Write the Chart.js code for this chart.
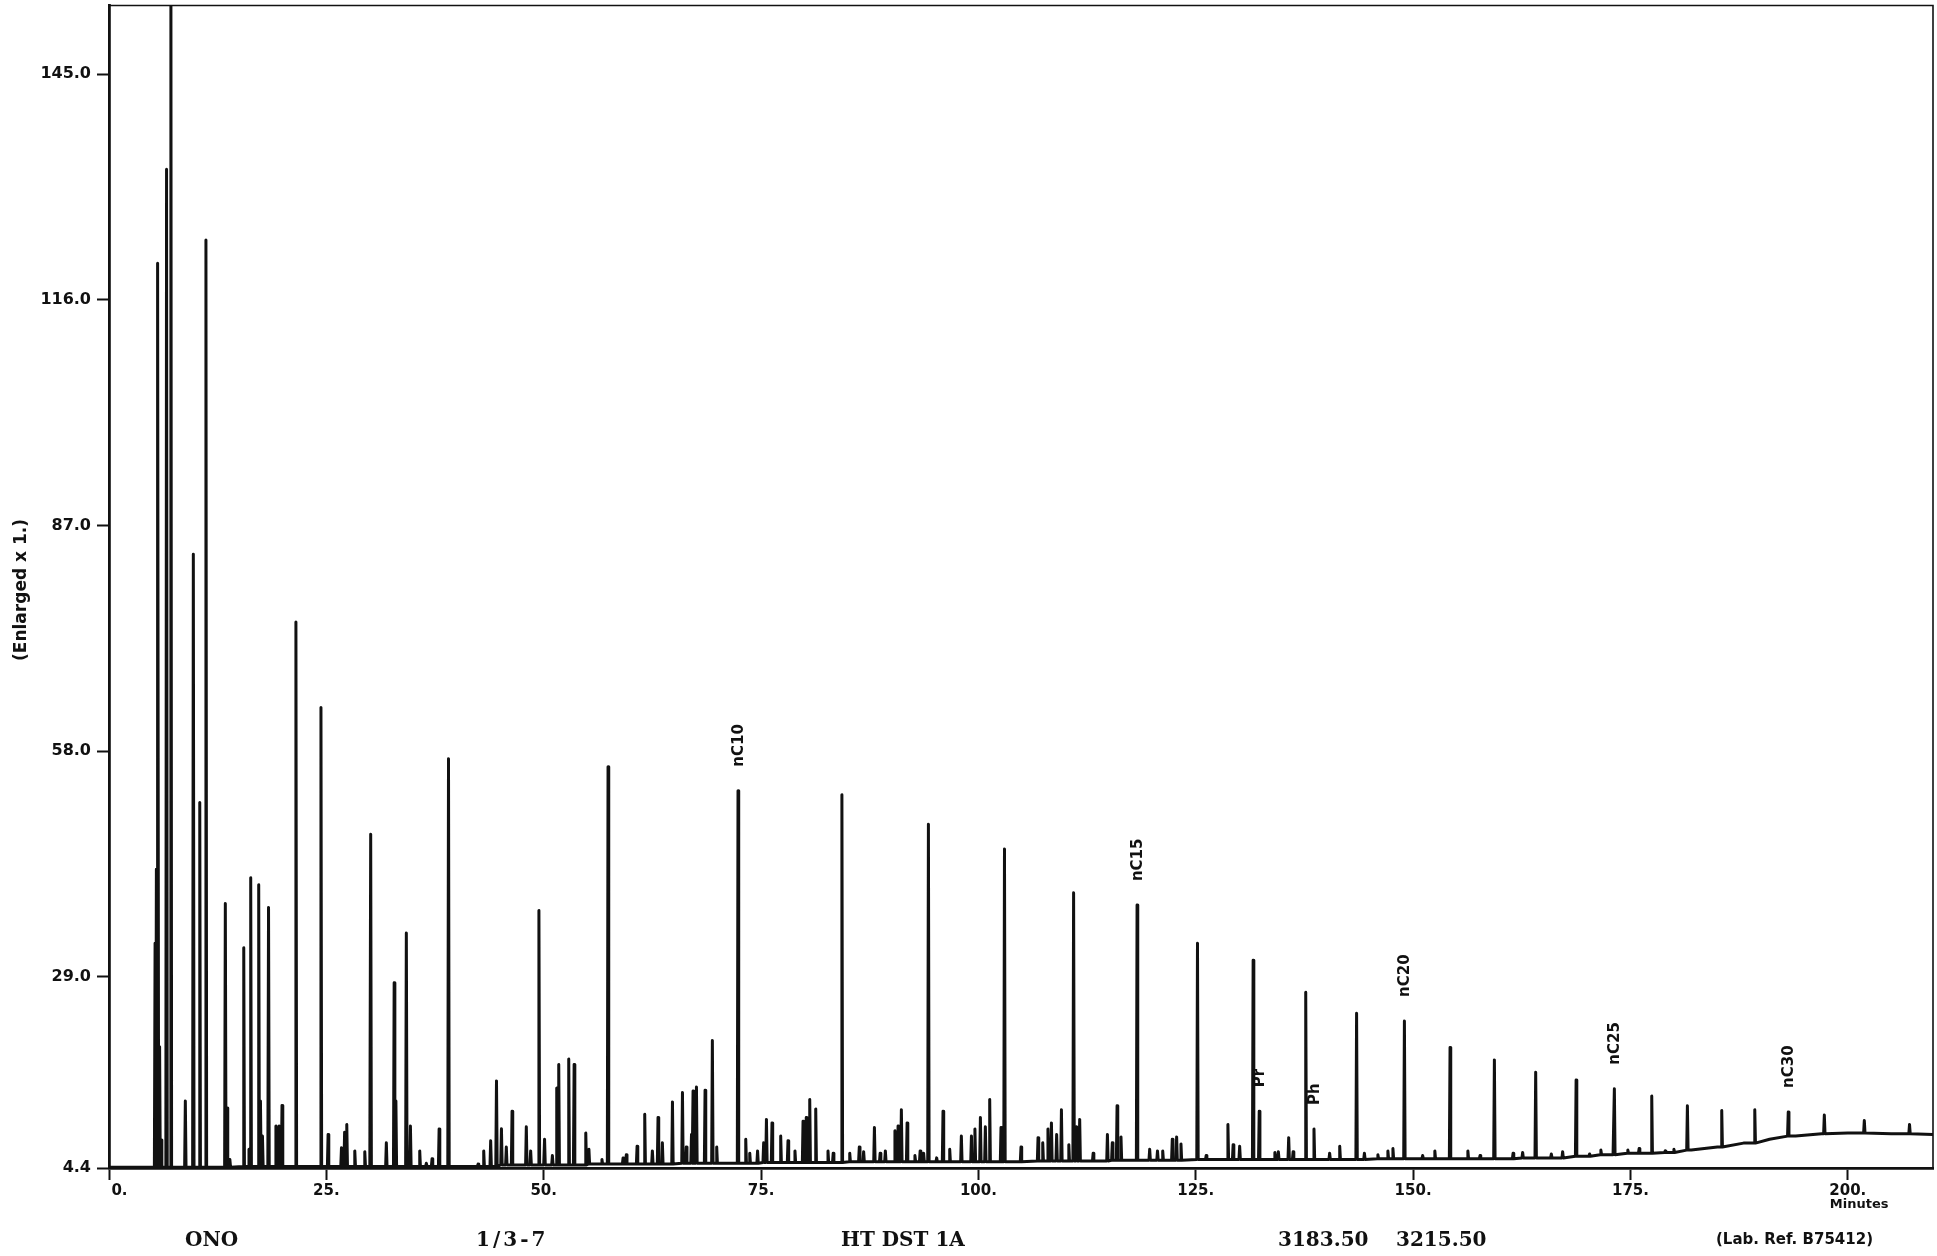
<!DOCTYPE html>
<html>
<head>
<meta charset="utf-8">
<script src="https://cdn.jsdelivr.net/npm/chart.js@4.4.1/dist/chart.umd.min.js"></script>
<style>
  html, body { margin: 0; padding: 0; background: #fff; }
  #wrap { position: relative; width: 1937px; height: 1256px; overflow: hidden; }
  canvas { position: absolute; left: 0; top: 0; }
  .foot { position: absolute; top: 1226px; line-height: 26px; white-space: pre; color: #111;
          font-family: "DejaVu Serif", "Liberation Serif", serif; font-weight: bold; font-size: 20px; }
  .ref { position: absolute; top: 1229px; line-height: 20px; white-space: pre; color: #111;
         font-family: "DejaVu Sans", "Liberation Sans", sans-serif; font-weight: bold; font-size: 15px; }
</style>
</head>
<body>
<div id="wrap">
  <canvas id="c" width="1937" height="1256"></canvas>
  <div class="foot" style="left:185px">ONO</div>
  <div class="foot" style="left:476px; letter-spacing:3px">1/3-7</div>
  <div class="foot" style="left:841px">HT DST 1A</div>
  <div class="foot" style="left:1278px">3183.50</div>
  <div class="foot" style="left:1396px">3215.50</div>
  <div class="ref" style="left:1716px">(Lab. Ref. B75412)</div>
</div>
<script>
// ---- data (retention time in minutes, response) ----
const peakTimes = [
  5.3, 5.45, 5.63, 5.82, 6.0, 6.62, 7.12, 8.78, 9.7, 10.44, 11.15, 13.38, 13.58, 13.9,
  15.5, 16.1, 16.3, 17.22, 17.42, 17.65, 18.35, 19.2, 19.55, 19.9, 21.5, 24.38, 25.2,
  26.74, 27.1, 27.35, 28.27, 29.42, 30.1, 31.9, 32.8, 33.0, 34.2, 34.67, 35.74, 36.5,
  37.16, 37.97, 39.05, 42.45,
  43.1, 43.9, 44.57, 45.14, 45.7, 46.36, 48.0, 48.5, 49.45, 50.1, 51.0, 51.5, 51.73, 52.88,
  53.5, 54.84, 55.2, 56.7, 57.4, 59.13, 59.5, 60.74, 61.62, 62.5, 63.15, 63.65, 64.81, 65.96,
  66.4, 67.0, 67.18, 67.57, 68.56, 69.4, 69.9, 72.35, 73.24, 73.7, 74.6, 75.3, 75.62, 76.26,
  77.26, 78.1, 78.9, 79.83, 80.2, 80.6, 81.29, 82.7, 83.3, 84.3, 85.2,
  86.3, 86.8, 88.04, 88.7, 89.3, 90.4, 90.76, 91.14, 91.8, 92.7, 93.3, 93.7, 94.25, 95.2,
  95.93, 96.7, 98.04, 99.2, 99.6, 100.23, 100.8, 101.3, 102.6, 103.0, 104.9, 106.86, 107.4,
  108.0, 108.4, 109.0, 109.55, 110.4, 110.95, 111.3, 111.65, 113.2, 114.84, 115.4, 115.95,
  116.4, 118.25, 119.7, 120.6, 121.2, 122.3, 122.8, 123.3, 125.2, 126.2, 128.7, 129.3, 130.05,
  131.6, 132.3, 134.1, 134.5, 135.69, 136.2, 137.65, 138.6, 140.4, 141.56, 143.5, 144.4,
  145.95, 147.1, 147.68, 149.0, 151.1, 152.5, 154.25, 156.3, 157.7, 159.35, 161.5, 162.6,
  164.1, 165.9, 167.2, 168.75, 170.3, 171.6, 173.15, 174.7, 176.0, 177.45, 179.0, 180.0,
  181.55, 185.5, 189.3, 193.15, 197.3, 201.9, 207.1
];
const peakHeights = [
  33.3, 42.8, 120.7, 20.0, 8.0, 132.8, 160.0, 13.0, 83.3, 51.4, 123.7, 38.4, 12.1, 5.5,
  32.7, 6.8, 41.7, 40.8, 13.0, 8.5, 37.9, 9.8, 9.8, 12.45, 74.6, 63.6, 8.7,
  7.0, 9.0, 10.0, 6.6, 6.5, 47.3, 7.65, 28.2, 13.0, 34.6, 9.8, 6.6, 5.0,
  5.6, 9.4, 57.0, 4.9,
  6.6, 7.9, 15.6, 9.45, 7.1, 11.7, 9.7, 6.6, 37.5, 8.1, 6.0, 14.7, 17.7, 18.4,
  17.7, 8.9, 6.8, 5.5, 56.0, 5.7, 6.1, 7.2, 11.3, 6.6, 10.9, 7.65, 12.9, 14.1,
  7.1, 8.7, 14.3, 14.8, 14.4, 20.8, 7.1, 52.9, 8.1, 6.3, 6.6, 7.65, 10.65, 10.2,
  8.5, 7.9, 6.6, 10.4, 10.9, 13.2, 12.0, 6.6, 6.3, 52.4, 6.3,
  7.1, 6.5, 9.6, 6.3, 6.6, 9.2, 9.8, 11.9, 10.2, 6.0, 6.6, 6.3, 48.6, 5.7,
  11.7, 6.8, 8.5, 8.5, 9.4, 10.9, 9.7, 13.2, 9.6, 45.4, 7.1, 8.3, 7.65,
  9.4, 10.2, 8.7, 11.9, 7.4, 39.8, 9.7, 10.65, 6.3, 8.7, 7.65, 12.4,
  8.4, 38.2, 6.8, 6.6, 6.6, 8.1, 8.4, 7.5, 33.3, 6.0, 10.0, 7.4, 7.2,
  31.1, 11.7, 6.4, 6.5, 8.3, 6.5, 27.0, 9.4, 6.3, 7.2, 24.3, 6.3,
  6.1, 6.6, 6.9, 23.3, 6.0, 6.6, 19.9, 6.6, 6.0, 18.3, 6.3, 6.4,
  16.7, 6.2, 6.5, 15.7, 6.2, 6.7, 14.6, 6.7, 6.9, 13.65, 6.6, 6.8,
  12.4, 11.8, 11.9, 11.6, 11.2, 10.5, 10.0
];
// baseline (drift) of the trace
const baseTimes  = [0, 10, 20, 30, 40, 50, 60, 70, 80, 90, 100, 110, 120, 130, 140, 150, 160, 165, 170, 173, 176, 179, 182, 185, 188, 191, 194, 197, 200, 205, 209.8];
const baseValues = [4.5, 4.5, 4.6, 4.6, 4.6, 4.8, 4.9, 5.0, 5.1, 5.2, 5.2, 5.3, 5.4, 5.5, 5.5, 5.6, 5.6, 5.7, 5.9, 6.1, 6.3, 6.4, 6.7, 7.1, 7.6, 8.1, 8.5, 8.8, 8.9, 8.8, 8.7];
// labelled peaks
const labelNames = ['nC10', 'nC15', 'Pr', 'Ph', 'nC20', 'nC25', 'nC30'];
const labelTimes = [72.35, 118.25, 132.3, 138.6, 149.0, 173.15, 193.15];
// axes
const xTicks = [0, 25, 50, 75, 100, 125, 150, 175, 200];
const yTicks = [4.4, 29.0, 58.0, 87.0, 116.0, 145.0];
const xMin = 0, xMax = 209.8, yMin = 4.4, yMax = 153.85;

// ---- build the trace table ----
const W = 0.08;
function baseAt(t) {
  let best = 0;
  for (let i = 1; i < baseTimes.length; i++) {
    if (Math.abs(baseTimes[i] - t) < Math.abs(baseTimes[best] - t)) best = i;
  }
  return baseValues[best];
}
const trace = [];
let k = 0, lastX = -1;
for (let i = 0; i < peakTimes.length; i++) {
  const t = peakTimes[i];
  while (k < baseTimes.length && baseTimes[k] < t - W) {
    if (baseTimes[k] > lastX) trace.push({ x: baseTimes[k], y: baseValues[k] });
    k++;
  }
  const b = baseAt(t);
  trace.push({ x: t - W, y: b }, { x: t, y: peakHeights[i] }, { x: t + W, y: b });
  lastX = t + W;
}
while (k < baseTimes.length) {
  if (baseTimes[k] > lastX) trace.push({ x: baseTimes[k], y: baseValues[k] });
  k++;
}

const INK = '#111';
const sansBold = (s) => ({ family: '"DejaVu Sans", "Liberation Sans", sans-serif', weight: 'bold', size: s });

const decorPlugin = {
  id: 'decor',
  afterDraw(chart) {
    const { ctx, chartArea: a, scales } = chart;
    ctx.save();
    // frame top & right
    ctx.strokeStyle = INK;
    ctx.lineWidth = 1.6;
    ctx.beginPath();
    ctx.moveTo(a.left, a.top); ctx.lineTo(a.right, a.top); ctx.lineTo(a.right, a.bottom);
    ctx.stroke();
    ctx.fillStyle = INK;
    // peak labels
    ctx.font = 'bold 15px "DejaVu Sans", "Liberation Sans", sans-serif';
    ctx.textAlign = 'left';
    ctx.textBaseline = 'middle';
    labelNames.forEach((name, j) => {
      let best = 0;
      for (let i = 1; i < peakTimes.length; i++) {
        if (Math.abs(peakTimes[i] - labelTimes[j]) < Math.abs(peakTimes[best] - labelTimes[j])) best = i;
      }
      const px = scales.x.getPixelForValue(peakTimes[best]);
      const py = scales.y.getPixelForValue(peakHeights[best]);
      ctx.save();
      ctx.translate(px + 1, py - 24);
      ctx.rotate(-Math.PI / 2);
      ctx.fillText(name, 0, 0);
      ctx.restore();
    });
    // y axis title
    ctx.save();
    ctx.font = 'bold 17px "DejaVu Sans", "Liberation Sans", sans-serif';
    ctx.textAlign = 'center';
    ctx.translate(22, 590);
    ctx.rotate(-Math.PI / 2);
    ctx.fillText('(Enlarged x 1.)', 0, 0);
    ctx.restore();
    // x unit
    ctx.font = 'bold 13px "DejaVu Sans", "Liberation Sans", sans-serif';
    ctx.textAlign = 'left';
    ctx.fillText('Minutes', scales.x.getPixelForValue(200) - 18, 1205);
    ctx.restore();
  }
};

new Chart(document.getElementById('c').getContext('2d'), {
  type: 'line',
  data: {
    datasets: [{
      data: trace,
      borderColor: INK,
      borderWidth: 3,
      borderJoinStyle: 'round',
      pointRadius: 0,
      tension: 0,
      fill: false
    }]
  },
  options: {
    responsive: false,
    animation: false,
    events: [],
    layout: { padding: { top: 5.5, right: 4, left: 0, bottom: 0 } },
    plugins: { legend: { display: false }, tooltip: { enabled: false } },
    scales: {
      x: {
        type: 'linear', min: xMin, max: xMax,
        afterBuildTicks: (s) => { s.ticks = xTicks.map(v => ({ value: v })); },
        afterFit: (s) => { s.height = 88; s.paddingLeft = 0; s.paddingRight = 0; },
        grid: { drawOnChartArea: false, drawTicks: true, tickLength: 12, tickWidth: 2, tickColor: INK, color: INK },
        border: { display: true, color: INK, width: 2.8 },
        ticks: { color: INK, font: sansBold(15), padding: 2, maxRotation: 0, autoSkip: false,
                 callback: (v) => (v === 0 ? '    0.' : v + '.') }
      },
      y: {
        type: 'linear', min: yMin, max: yMax,
        afterBuildTicks: (s) => { s.ticks = yTicks.map(v => ({ value: v })); },
        afterFit: (s) => { s.width = 109; s.paddingTop = 0; s.paddingBottom = 0; },
        grid: { drawOnChartArea: false, drawTicks: true, tickLength: 12, tickWidth: 2, tickColor: INK, color: INK },
        border: { display: true, color: INK, width: 2.8 },
        ticks: { color: INK, font: sansBold(16), padding: 6, autoSkip: false,
                 callback: (v) => Number(v).toFixed(1) }
      }
    }
  },
  plugins: [decorPlugin]
});
</script>
</body>
</html>
